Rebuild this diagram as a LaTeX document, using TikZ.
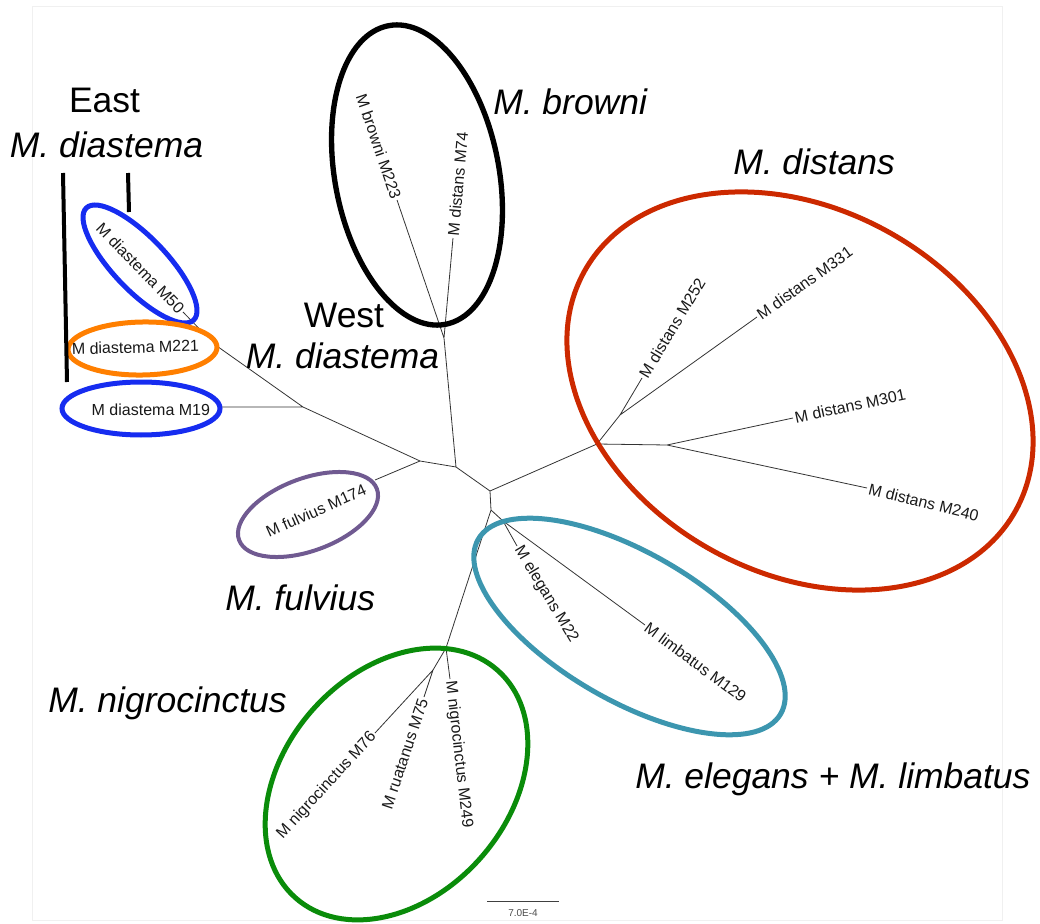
\documentclass[tikz,border=0pt]{standalone}
\usepackage{fontspec}
\setmainfont{Liberation Sans}
\definecolor{cBlue}{RGB}{22,44,240}
\definecolor{cOrange}{RGB}{255,127,0}
\definecolor{cRed}{RGB}{204,41,0}
\definecolor{cTeal}{RGB}{60,150,175}
\definecolor{cGreen}{RGB}{10,140,10}
\definecolor{cPurple}{RGB}{112,90,145}
\begin{document}
\begin{tikzpicture}[x=0.75pt,y=-0.75pt,
  branch/.style={line width=0.6pt, draw=black!80},
  leaf/.style={font=\fontsize{12}{13}\selectfont, inner sep=1.5pt, outer sep=0pt, text=black!90},
  bigup/.style={font=\fontsize{26.6}{30}\selectfont, inner sep=0pt},
  bigit/.style={font=\fontsize{26.6}{30}\selectfont\itshape, inner sep=0pt},
  ring/.style={line width=3.75pt},
  bar/.style={line width=3pt, draw=black}]
\useasboundingbox (0,0) rectangle (1040,924);
\draw[black!6, line width=0.75pt] (32,7) rectangle (1002,920);

% tree nodes
\coordinate (r1) at (456,467);
\coordinate (b0) at (444,338);
\coordinate (lM223) at (397,200);
\coordinate (lM74) at (453,238);
\coordinate (f0) at (420,461);
\coordinate (d0) at (303,407);
\coordinate (d1) at (214,344);
\coordinate (lM50) at (183,312);
\coordinate (lM221) at (201,345.5);
\coordinate (lM19) at (213,407);
\coordinate (lM174) at (375,480);
\coordinate (r2) at (490,491);
\coordinate (s0) at (597,444);
\coordinate (s1) at (620,415);
\coordinate (lM252) at (642,378);
\coordinate (lM331) at (757,317);
\coordinate (s2) at (667,445);
\coordinate (lM301) at (793,418);
\coordinate (lM240) at (867,488);
\coordinate (r3) at (491,510);
\coordinate (e0) at (503,521);
\coordinate (lM22) at (517,546);
\coordinate (lM129) at (645,625);
\coordinate (n0) at (446,648);
\coordinate (n1) at (433,670);
\coordinate (lM249) at (450,679);
\coordinate (lM76) at (375,733);
\coordinate (lM75) at (424,697);

\draw[branch] (r1)--(b0) (b0)--(lM223) (b0)--(lM74)
  (r1)--(f0) (f0)--(d0) (d0)--(d1) (d1)--(lM50) (d1)--(lM221) (d0)--(lM19) (f0)--(lM174)
  (r1)--(r2) (r2)--(s0) (s0)--(s1) (s1)--(lM252) (s1)--(lM331) (s0)--(s2) (s2)--(lM301) (s2)--(lM240)
  (r2)--(r3) (r3)--(e0) (e0)--(lM22) (e0)--(lM129) (r3)--(n0) (n0)--(n1) (n0)--(lM249) (n1)--(lM76) (n1)--(lM75);

% ellipses
\draw[ring, black, line width=4pt, rotate around={10.8:(417,175)}] (417,175) ellipse (82 and 152);
\draw[ring, cRed, rotate around={-29:(800,391)}] (800,391) ellipse (246.6 and 182);
\draw[ring, cTeal, rotate around={-30:(629.5,626.5)}] (629.5,626.5) ellipse (174.6 and 74);
\draw[ring, cGreen, rotate around={-41.7:(396.5,784)}] (396.5,784) ellipse (112 and 152.2);
\draw[ring, cPurple, line width=3pt, rotate around={20.4:(308,514.5)}] (308,514.5) ellipse (73.5 and 36.2);
\draw[ring, cBlue, rotate around={-46.25:(140,264)}] (140,264) ellipse (77.6 and 26.6);
\draw[ring, cOrange, fill=white, rotate around={1:(142.5,348.5)}] (142.5,348.5) ellipse (74.5 and 26.5);
\draw[ring, cBlue, fill=white] (141,408.5) ellipse (79 and 26.5);

% bars
\coordinate (ba1) at (63,173); \coordinate (ba2) at (67,382);
\coordinate (bb1) at (128,173); \coordinate (bb2) at (129,212);
\draw[bar] (ba1) -- (ba2);
\draw[bar] (bb1) -- (bb2);

% leaf labels
\node[leaf, anchor=east, rotate=-71.2] (tM223) at (lM223) {M browni M223};
\node[leaf, anchor=west, rotate=84.9] (tM74) at (lM74) {M distans M74};
\node[leaf, anchor=east, rotate=-45.9] (tM50) at (lM50) {M diastema M50};
\node[leaf, anchor=east, rotate=1.5] (tM221) at (lM221) {M diastema M221};
\node[leaf, anchor=east] (tM19) at (212,410) {M diastema M19};
\node[leaf, anchor=east, rotate=24] (tM174) at (367,488) {M fulvius M174};
\node[leaf, anchor=west, rotate=59] (tM252) at (lM252) {M distans M252};
\node[leaf, anchor=west, rotate=35.6] (tM331) at (lM331) {M distans M331};
\node[leaf, anchor=west, rotate=12] (tM301) at (lM301) {M distans M301};
\node[leaf, anchor=west, rotate=-14] (tM240) at (lM240) {M distans M240};
\node[leaf, anchor=west, rotate=-59] (tM22) at (lM22) {M elegans M22};
\node[leaf, anchor=west, rotate=-36.5] (tM129) at (lM129) {M limbatus M129};
\node[leaf, anchor=west, rotate=-83.5] (tM249) at (lM249) {M nigrocinctus M249};
\node[leaf, anchor=east, rotate=47.4] (tM76) at (lM76) {M nigrocinctus M76};
\node[leaf, anchor=east, rotate=71.5] (tM75) at (lM75) {M ruatanus M75};

% group labels
\node[bigup, anchor=base] (east) at (104.5,113) {East};
\node[bigit, anchor=base] (eastd) at (106.5,157) {M. diastema};
\node[bigup, anchor=base] (west) at (344,327) {West};
\node[bigit, anchor=base] (westd) at (342.5,368) {M. diastema};
\node[bigit, anchor=base west] (gbrowni) at (493,115) {M. browni};
\node[bigit, anchor=base west] (gdistans) at (733,175) {M. distans};
\node[bigit, anchor=base west] (gfulvius) at (225,610) {M. fulvius};
\node[bigit, anchor=base] (gnigro) at (167.5,712) {M. nigrocinctus};
\node[bigit, anchor=base west] (gelegans) at (635,788) {M. elegans + M. limbatus};

% scale bar
\coordinate (sb1) at (487,901); \coordinate (sb2) at (559,901);
\draw[line width=0.75pt, black!75] (sb1) -- (sb2);
\node[font=\fontsize{7.5}{8}\selectfont, text=black!70, inner sep=0pt] (sbl) at (523,913) {7.0E-4};
\end{tikzpicture}
\end{document}
